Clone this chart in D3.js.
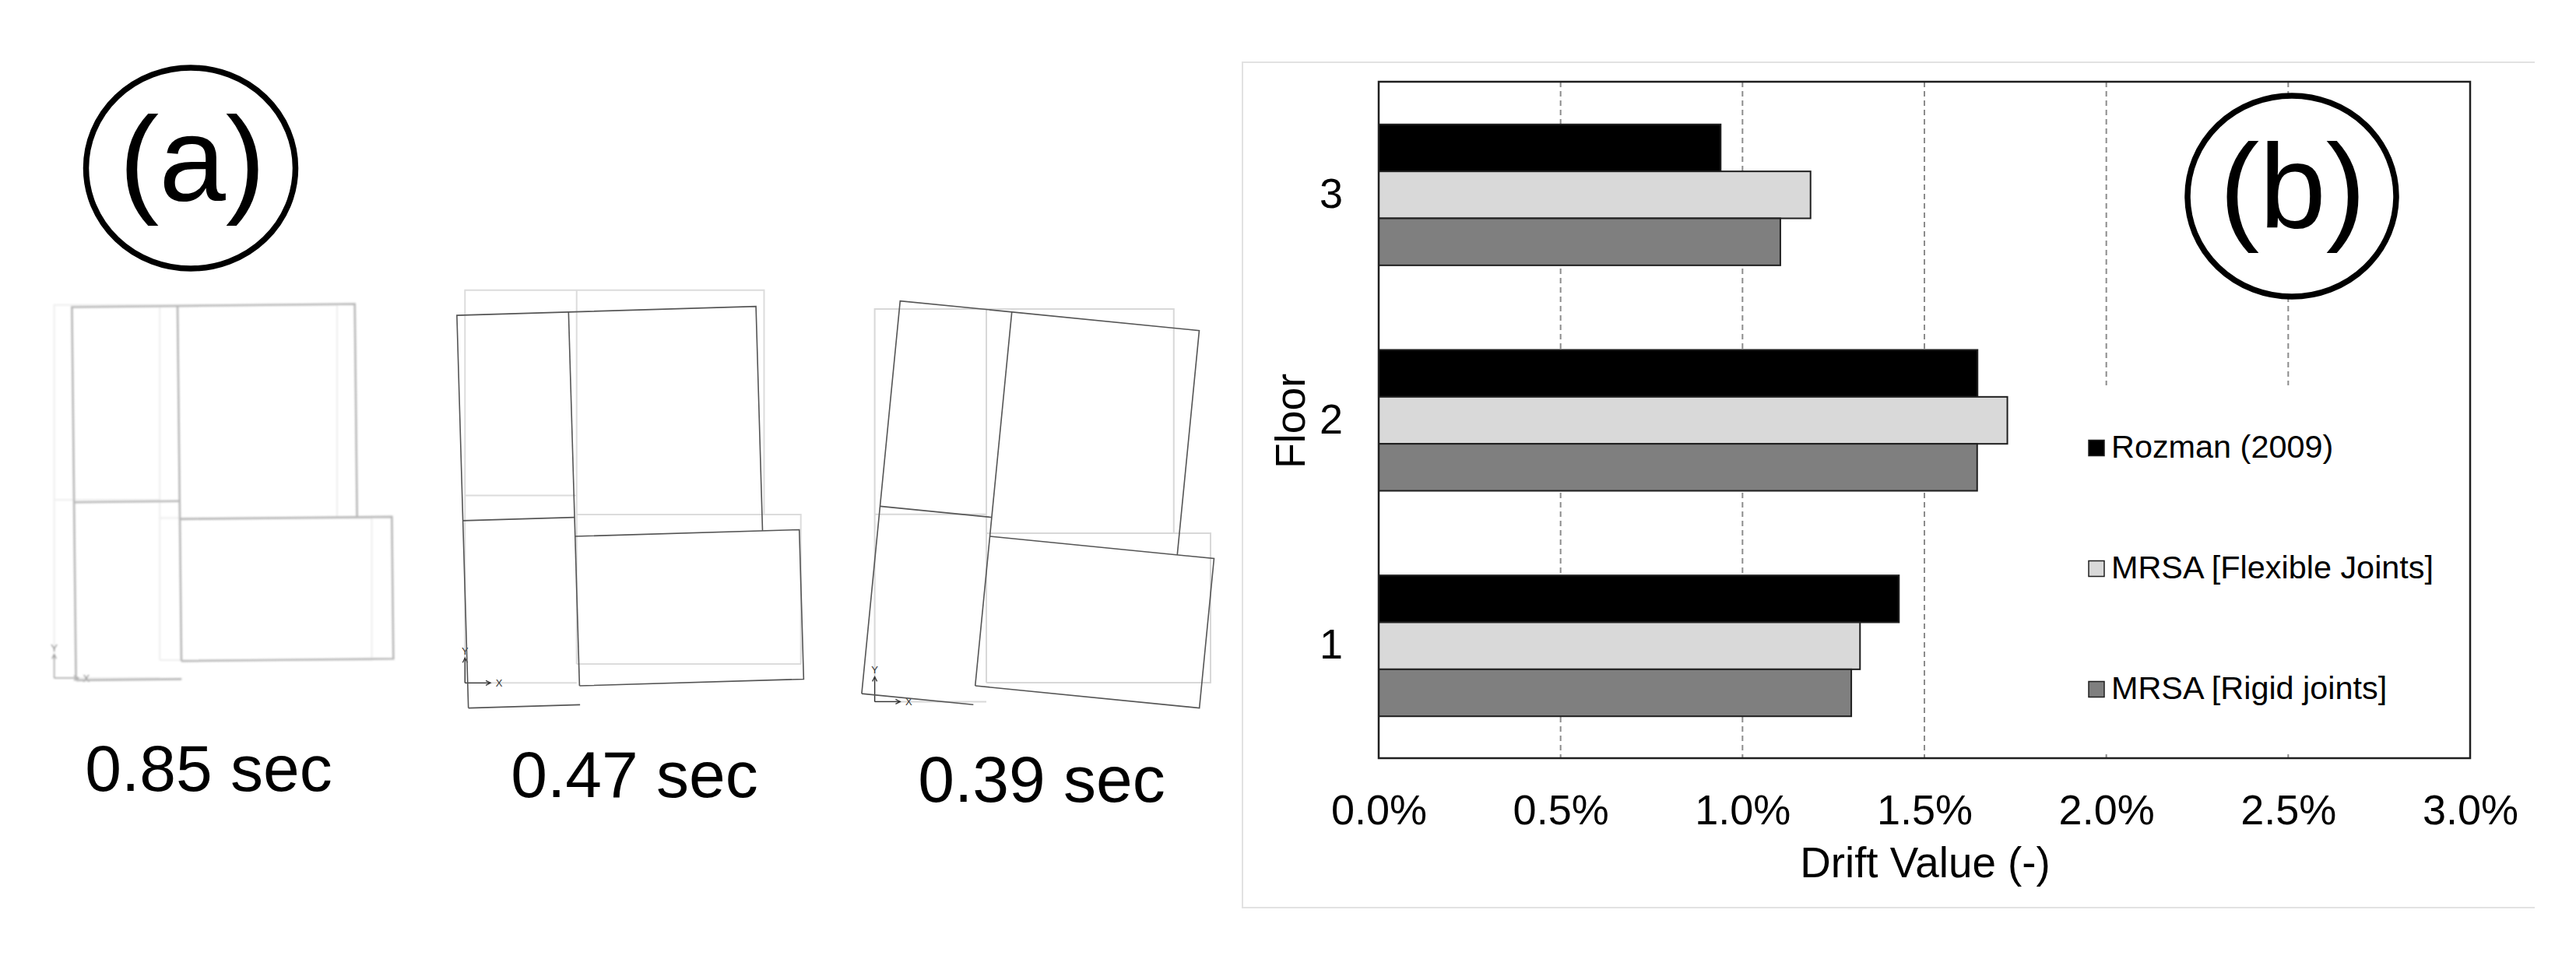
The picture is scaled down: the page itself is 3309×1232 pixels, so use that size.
<!DOCTYPE html>
<html>
<head>
<meta charset="utf-8">
<style>
html, body { margin: 0; padding: 0; background: #fff; }
svg { display: block; }
text { font-family: "Liberation Sans", Arial, sans-serif; fill: #000; }
</style>
</head>
<body>
<script src="https://d3js.org/d3.v7.min.js"></script>
<script>

// bar chart values, drift as a fraction
var floors = ['3', '2', '1'],
		seriesNames = ['Rozman (2009)', 'MRSA [Flexible Joints]', 'MRSA [Rigid joints]'],
		rozman = [0.0094, 0.01646, 0.0143],
		mrsaFlexible = [0.01187, 0.01728, 0.01323],
		mrsaRigid = [0.01104, 0.01645, 0.01299],
		driftTicks = [0, 0.005, 0.01, 0.015, 0.02, 0.025, 0.03];

// plan walls in plan units, origin at the lower left corner
var walls = [
	[[0, 0], [0, 504.5], [386.5, 504.5], [386.5, 216.3]],
	[[144.3, 504.5], [144.3, 24.3]],
	[[0, 240.7], [144.3, 240.7]],
	[[144.3, 216.3], [434, 216.3], [434, 24.3], [144.3, 24.3]],
	[[0, 0], [144.3, 0]]
];

// the three modes: rigid floor movement
var periods = ['0.85 sec', '0.47 sec', '0.39 sec'],
		modeUx = [29.8, 4.4, -16.8],
		modeUy = [-3, -32.3, 10.3],
		modeTheta = [0.011, 0.0295, -0.0985];

var axisArrows = [
	[[0, 0], [33, 0]],
	[[27, 3], [33, 0], [27, -3]],
	[[0, 0], [0, 32]],
	[[-3, 26], [0, 32], [3, 26]]
];

var width = 3309,
		height = 1232;

var svg = d3.select('body').append('svg')
		.attr('width', width)
		.attr('height', height);

svg.append('defs').append('filter')
		.attr('id', 'soft')
		.append('feGaussianBlur')
		.attr('stdDeviation', 1.3);

/* ---------- (a) plans ---------- */

var panels = [
	{ x: 69.6, y: 871, sx: 0.94, sy: 0.95, labelX: 268, labelY: 1016, deformed: '#b8b8b8', base: '#eeeeee', w: 2.6, blur: true },
	{ x: 597.3, y: 877.3, sx: 0.994, sy: 1, labelX: 815, labelY: 1023.5, deformed: '#555', base: '#dcdcdc', w: 1.6 },
	{ x: 1123.6, y: 901.4, sx: 0.994, sy: 1, labelX: 1338, labelY: 1030, deformed: '#555', base: '#d8d8d8', w: 1.6 }
];

panels.forEach(function(p, i) {
	var planX = d3.scaleLinear().domain([0, 434]).range([p.x, p.x + 434 * p.sx]),
			planY = d3.scaleLinear().domain([0, 504.5]).range([p.y, p.y - 504.5 * p.sy]);

	var line = d3.line()
			.x(function(d) { return planX(d[0]); })
			.y(function(d) { return planY(d[1]); });

	var moved = function(wall) {
		return wall.map(function(d) {
			return [
				d[0] + modeUx[i] - modeTheta[i] * d[1],
				d[1] + modeUy[i] + modeTheta[i] * d[0]
			];
		});
	};

	var g = svg.append('g').attr('class', 'plan');
	if (p.blur) g.attr('filter', 'url(#soft)');

	g.selectAll('path.base').data(walls).enter().append('path')
			.attr('class', 'base')
			.attr('d', line)
			.attr('fill', 'none')
			.attr('stroke', p.base)
			.attr('stroke-width', 2);

	g.selectAll('path.arrow').data(axisArrows).enter().append('path')
			.attr('class', 'arrow')
			.attr('d', line)
			.attr('fill', 'none')
			.attr('stroke', p.blur ? '#999' : '#333')
			.attr('stroke-width', 1.3);

	g.append('text')
			.attr('x', planX(44))
			.attr('y', planY(-5))
			.attr('text-anchor', 'middle')
			.attr('font-size', 13)
			.style('fill', p.blur ? '#777' : '#333')
			.text('X');

	g.append('text')
			.attr('x', planX(0))
			.attr('y', planY(36))
			.attr('text-anchor', 'middle')
			.attr('font-size', 13)
			.style('fill', p.blur ? '#777' : '#333')
			.text('Y');

	g.selectAll('path.wall').data(walls.map(moved)).enter().append('path')
			.attr('class', 'wall')
			.attr('d', line)
			.attr('fill', 'none')
			.attr('stroke', p.deformed)
			.attr('stroke-width', p.w);

	svg.append('text')
			.attr('x', p.labelX)
			.attr('y', p.labelY)
			.attr('text-anchor', 'middle')
			.attr('font-size', 84)
			.text(periods[i]);
});

/* ---------- (b) bar chart ---------- */

// light frame round the chart, open on the right
svg.append('path')
		.attr('d', 'M3256,80H1596V1166H3256')
		.attr('fill', 'none')
		.attr('stroke', '#e2e2e2')
		.attr('stroke-width', 2);

var margin = { top: 105, right: 136, bottom: 258, left: 1771 },
		plotW = width - margin.left - margin.right,
		plotH = height - margin.top - margin.bottom;

var x = d3.scaleLinear().domain([0, 0.03]).range([0, plotW]);

var y = d3.scaleBand().domain(floors).range([0, plotH])
		.paddingInner(0.375).paddingOuter(0.1875);

var ySeries = d3.scaleBand().domain(seriesNames).range([0, y.bandwidth()]);

var color = d3.scaleOrdinal().domain(seriesNames).range(['#000', '#d9d9d9', '#7f7f7f']);

var seriesValues = [rozman, mrsaFlexible, mrsaRigid];

var chart = svg.append('g')
		.attr('transform', 'translate(' + margin.left + ',' + margin.top + ')');

chart.selectAll('line.grid').data(driftTicks.slice(1, -1)).enter().append('line')
		.attr('class', 'grid')
		.attr('x1', function(d) { return x(d); })
		.attr('x2', function(d) { return x(d); })
		.attr('y1', 0)
		.attr('y2', plotH)
		.attr('stroke', '#8c8c8c')
		.attr('stroke-width', 2)
		.attr('stroke-dasharray', '7,5');

seriesNames.forEach(function(name, s) {
	chart.selectAll('rect.s' + s).data(seriesValues[s]).enter().append('rect')
			.attr('class', 's' + s)
			.attr('x', 0)
			.attr('y', function(d, i) { return y(floors[i]) + ySeries(name) + 0.5; })
			.attr('width', function(d) { return x(d); })
			.attr('height', ySeries.bandwidth())
			.attr('fill', color(name))
			.attr('stroke', '#1f1f1f')
			.attr('stroke-width', 2);
});

// legend sits on a white box that hides the grid behind it
var legendTop = 390,
		legendRow = d3.scalePoint().domain(seriesNames).range([460, 770]);

chart.append('rect')
		.attr('x', 880)
		.attr('y', legendTop)
		.attr('width', 510)
		.attr('height', 472)
		.attr('fill', '#fff');

var legend = chart.selectAll('g.legend').data(seriesNames).enter().append('g')
		.attr('class', 'legend')
		.attr('transform', function(d) { return 'translate(912,' + legendRow(d) + ')'; });

legend.append('rect')
		.attr('x', 0)
		.attr('y', 0.5)
		.attr('width', 20)
		.attr('height', 20)
		.attr('fill', function(d) { return color(d); })
		.attr('stroke', '#1f1f1f')
		.attr('stroke-width', 1.5);

legend.append('text')
		.attr('x', 29)
		.attr('y', 23)
		.attr('font-size', 41.4)
		.text(function(d) { return d; });

// frame
chart.append('rect')
		.attr('width', plotW)
		.attr('height', plotH)
		.attr('fill', 'none')
		.attr('stroke', '#1f1f1f')
		.attr('stroke-width', 2.5);

var xAxis = d3.axisBottom(x)
		.tickValues(driftTicks)
		.tickFormat(d3.format('.1%'))
		.tickSize(0)
		.tickPadding(47);

var yAxis = d3.axisLeft(y).tickSize(0).tickPadding(46);

var xg = chart.append('g').attr('transform', 'translate(0,' + plotH + ')').call(xAxis);
var yg = chart.append('g').call(yAxis);

xg.select('.domain').remove();
yg.select('.domain').remove();
xg.selectAll('text').attr('font-size', 54).style('font-family', '"Liberation Sans", Arial, sans-serif');
yg.selectAll('text').attr('font-size', 54).style('font-family', '"Liberation Sans", Arial, sans-serif');

svg.append('text')
		.attr('x', 2473)
		.attr('y', 1126.5)
		.attr('text-anchor', 'middle')
		.attr('font-size', 54.8)
		.text('Drift Value (-)');

svg.append('text')
		.attr('transform', 'translate(1676,541) rotate(-90)')
		.attr('text-anchor', 'middle')
		.attr('font-size', 53.5)
		.text('Floor');

/* ---------- panel badges ---------- */

var badges = [
	{ label: '(a)', cx: 245, cy: 216, rx: 134.5, ry: 129, tx: 247, ty: 258 },
	{ label: '(b)', cx: 2944, cy: 252, rx: 134, ry: 129, tx: 2945, ty: 292.7 }
];

var badge = svg.selectAll('g.badge').data(badges).enter().append('g').attr('class', 'badge');

badge.append('ellipse')
		.attr('cx', function(d) { return d.cx; })
		.attr('cy', function(d) { return d.cy; })
		.attr('rx', function(d) { return d.rx; })
		.attr('ry', function(d) { return d.ry; })
		.attr('fill', '#fff')
		.attr('stroke', '#000')
		.attr('stroke-width', 7.5);

badge.append('text')
		.attr('x', function(d) { return d.tx; })
		.attr('y', function(d) { return d.ty; })
		.attr('text-anchor', 'middle')
		.attr('font-size', 154)
		.text(function(d) { return d.label; });

</script>
</body>
</html>
